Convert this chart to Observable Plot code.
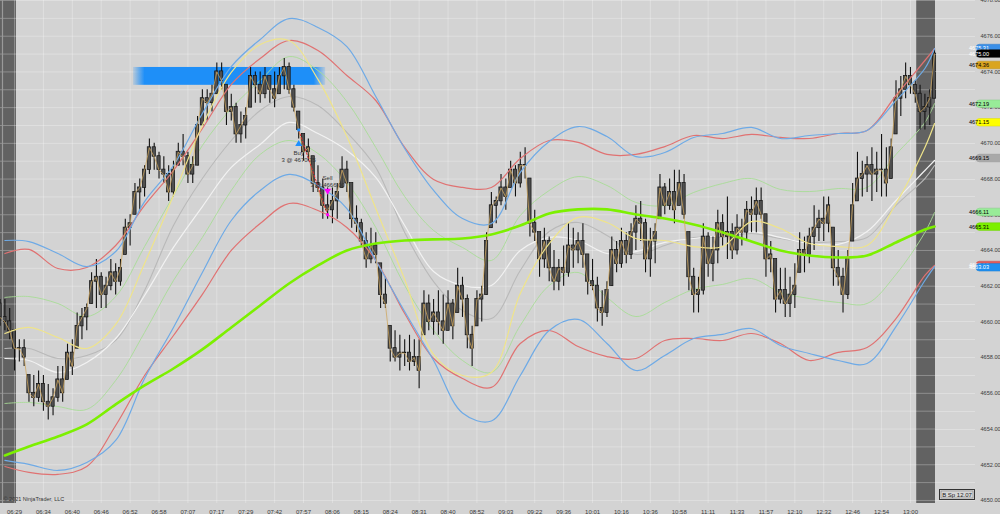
<!DOCTYPE html>
<html><head><meta charset="utf-8">
<script src="https://cdn.jsdelivr.net/npm/d3@7"></script>
<script src="https://cdn.jsdelivr.net/npm/@observablehq/plot@0.6"></script>
<style>
html,body{margin:0;padding:0;background:#d3d3d3;overflow:hidden}
#chart{width:1000px;height:514px}
</style></head><body><div id="chart"></div>
<script>
// ---------------- data ----------------
const timeLabels = ["06:29","06:34","06:40","06:46","06:52","06:58","07:07","07:17","07:29","07:42","07:57","08:06","08:15","08:24","08:31","08:40","08:52","09:03","09:22","09:36","10:01","10:16","10:36","10:58","11:11","11:33","11:57","12:10","12:32","12:46","12:54","13:00"];
const labelBars = [3,9,15,21,27,33,39,45,51,57,63,69,75,81,87,93,99,105,111,117,123,129,135,141,147,153,159,165,171,177,183,189];

const highs = [
4661.25,4661.25,4660.75,4659.5,4659.0,4659.0,4657.0,4657.0,4657.25,4657.0,
4656.5,4656.25,4657.5,4657.5,4658.75,4659.0,4660.5,4660.75,4661.0,4662.75,
4663.5,4662.75,4662.5,4663.5,4663.25,4663.5,4665.75,4666.0,4667.75,4668.0,
4668.75,4670.25,4670.0,4669.5,4669.25,4668.75,4669.0,4670.0,4670.5,4669.5,
4669.25,4671.5,4673.0,4673.0,4673.25,4674.5,4674.5,4673.25,4672.75,4672.25,
4671.75,4672.0,4674.25,4674.0,4674.0,4674.25,4673.75,4674.0,4674.25,4674.75,
4674.5,4673.25,4671.75,4670.5,4670.25,4669.25,4668.75,4668.0,4667.5,4667.5,
4667.75,4669.25,4669.0,4667.75,4666.5,4665.75,4665.0,4665.25,4665.0,4663.25,
4662.5,4659.75,4659.5,4659.25,4659.0,4659.25,4659.0,4659.0,4661.75,4661.5,
4661.25,4661.75,4661.5,4661.75,4661.25,4663.0,4662.5,4661.5,4659.75,4661.75,
4662.0,4665.0,4667.25,4667.0,4668.25,4668.0,4669.0,4668.75,4669.5,4669.75,
4668.0,4666.25,4665.0,4665.25,4664.75,4664.0,4663.5,4664.25,4665.5,4665.25,
4665.0,4665.5,4663.75,4663.5,4662.5,4661.75,4662.25,4664.75,4664.5,4665.25,
4665.0,4665.5,4666.5,4666.75,4665.75,4665.25,4665.5,4668.25,4667.75,4668.0,
4668.5,4668.5,4668.25,4665.0,4663.0,4662.5,4665.5,4665.0,4664.75,4666.25,
4666.0,4667.0,4665.5,4666.0,4665.75,4666.75,4667.0,4667.5,4667.5,4666.0,
4664.5,4663.5,4663.0,4663.0,4662.5,4663.25,4665.0,4664.75,4665.25,4666.5,
4666.25,4667.0,4667.0,4665.25,4664.0,4663.0,4664.0,4667.75,4669.5,4669.0,
4669.25,4669.75,4669.5,4670.5,4669.75,4670.25,4673.5,4673.75,4674.5,4674.25,
4673.5,4673.25,4672.75,4673.0,4675.25];
const lows = [
4659.75,4659.5,4659.0,4657.25,4657.75,4657.5,4655.5,4655.25,4655.5,4655.0,
4654.5,4654.75,4655.5,4655.5,4656.75,4657.0,4658.5,4659.0,4659.5,4661.0,
4660.75,4660.75,4660.75,4661.75,4661.5,4662.0,4663.75,4664.25,4666.0,4666.25,
4667.0,4668.25,4668.5,4668.0,4667.75,4666.75,4667.0,4668.75,4668.75,4667.75,
4667.75,4668.75,4671.0,4671.25,4671.75,4672.75,4673.0,4671.0,4671.25,4670.0,
4670.0,4670.25,4672.0,4672.25,4672.25,4672.5,4672.25,4672.0,4672.75,4673.0,
4672.75,4671.75,4670.25,4669.0,4669.0,4667.25,4667.25,4665.75,4665.75,4665.5,
4665.75,4667.5,4667.25,4665.25,4665.0,4664.25,4663.0,4663.25,4663.25,4660.75,
4660.75,4657.75,4657.75,4657.25,4657.5,4657.25,4657.5,4656.25,4659.25,4659.5,
4659.25,4659.25,4658.75,4659.5,4659.0,4660.5,4660.25,4658.5,4657.5,4659.75,
4660.0,4661.5,4665.25,4665.5,4666.5,4666.25,4667.5,4667.0,4667.5,4668.0,
4664.75,4664.5,4662.5,4663.0,4662.25,4661.75,4661.75,4662.0,4662.5,4663.0,
4663.25,4663.0,4661.5,4661.75,4660.0,4659.75,4660.25,4662.0,4662.75,4663.0,
4663.25,4663.5,4664.0,4664.5,4662.75,4662.5,4663.25,4665.75,4666.0,4666.25,
4665.5,4666.5,4665.75,4661.75,4660.5,4660.5,4661.5,4662.5,4662.25,4663.25,
4664.25,4663.5,4663.5,4663.75,4664.25,4664.5,4665.0,4665.0,4665.75,4662.5,
4662.75,4660.5,4661.0,4660.25,4660.25,4660.75,4662.75,4662.75,4663.25,4664.0,
4664.5,4664.5,4665.0,4662.0,4662.0,4660.5,4661.25,4664.5,4666.75,4667.0,
4667.25,4666.75,4667.25,4667.0,4667.0,4668.0,4670.5,4671.5,4672.5,4672.75,
4672.25,4670.75,4670.75,4671.0,4672.5];
const closes = [
4660.25,4660.0,4659.5,4658.5,4658.5,4658.0,4656.0,4655.75,4656.5,4655.5,
4655.25,4655.75,4656.75,4656.0,4658.25,4657.5,4659.75,4660.25,4660.75,4662.25,
4662.5,4661.5,4662.0,4662.75,4662.25,4663.0,4665.25,4665.5,4667.25,4667.5,
4668.5,4669.75,4669.25,4668.5,4668.25,4667.25,4668.5,4669.5,4669.25,4668.25,
4668.75,4671.0,4672.5,4672.25,4672.75,4674.0,4673.5,4671.75,4672.0,4670.5,
4671.0,4671.5,4673.75,4673.25,4672.75,4673.75,4673.0,4672.5,4673.75,4674.25,
4673.0,4672.0,4670.75,4669.5,4669.75,4667.75,4667.5,4666.5,4666.25,4666.75,
4667.25,4668.5,4667.75,4665.75,4665.5,4664.5,4663.5,4664.25,4663.75,4661.5,
4661.0,4658.5,4658.0,4658.25,4658.25,4657.75,4658.0,4657.25,4661.0,4660.0,
4660.5,4660.0,4659.5,4661.0,4659.75,4662.0,4661.25,4659.25,4658.5,4661.25,
4661.5,4664.5,4666.5,4666.75,4667.5,4667.0,4668.5,4667.75,4668.75,4668.75,
4665.5,4665.0,4663.5,4664.5,4663.0,4662.25,4663.0,4662.75,4664.25,4664.0,
4664.5,4663.75,4662.25,4662.0,4660.75,4660.5,4661.75,4664.0,4663.25,4664.5,
4663.75,4665.0,4665.75,4665.5,4663.5,4664.5,4665.0,4667.5,4666.5,4667.25,
4666.25,4667.75,4666.0,4662.5,4661.5,4661.75,4664.75,4663.25,4664.0,4665.5,
4664.75,4665.0,4664.0,4665.25,4665.0,4666.25,4666.0,4666.75,4666.0,4663.5,
4663.75,4661.25,4661.75,4661.0,4661.5,4662.0,4664.0,4663.75,4664.75,4665.25,
4665.75,4665.5,4666.5,4663.0,4662.5,4661.5,4663.5,4666.5,4668.0,4668.25,
4668.75,4668.25,4668.5,4668.5,4667.75,4669.75,4672.5,4673.0,4673.75,4673.25,
4672.75,4671.75,4672.0,4672.5,4675.0];

// indicator lines, sampled at these bars
const lineBars = [1,6,12,18,24,30,36,42,48,54,60,66,72,78,84,90,96,102,108,114,120,126,132,138,144,150,156,162,168,174,180,186,192,194];
const upperBlue = [4664.56,4664.50,4663.83,4663.10,4663.94,4666.74,4668.76,4671.67,4674.30,4675.82,4676.99,4676.49,4675.42,4672.62,4669.71,4667.36,4665.79,4665.51,4668.37,4670.10,4670.94,4670.38,4669.26,4669.49,4670.33,4670.55,4670.89,4670.27,4670.44,4670.55,4670.72,4672.40,4674.19,4675.31];
const upperRed = [4663.83,4664.06,4662.99,4663.05,4664.28,4666.52,4668.48,4670.83,4673.30,4674.75,4675.76,4675.20,4673.80,4672.40,4669.77,4667.98,4667.53,4667.53,4669.15,4670.16,4670.05,4669.38,4669.38,4669.82,4670.44,4670.27,4670.50,4670.33,4670.27,4670.55,4670.72,4672.68,4674.64,4675.31];
const lowerRed = [4651.90,4651.57,4651.46,4651.90,4654.20,4657.00,4659.24,4661.54,4664.00,4665.51,4666.63,4666.24,4665.29,4663.44,4660.47,4657.95,4656.83,4656.33,4658.79,4659.52,4658.62,4658.06,4657.95,4658.96,4659.07,4658.96,4659.35,4658.79,4657.84,4658.29,4658.57,4660.19,4662.60,4663.16];
const lowerBlue = [4652.24,4652.02,4651.68,4652.13,4653.36,4656.83,4659.69,4662.77,4665.68,4667.36,4668.26,4667.64,4666.35,4663.44,4660.58,4657.84,4654.90,4654.45,4657.00,4659.52,4660.14,4658.79,4657.28,4658.12,4659.07,4659.30,4659.63,4658.68,4658.23,4657.84,4657.67,4659.74,4662.32,4663.10];
const yellowMA = [4659.35,4659.69,4659.13,4658.51,4659.86,4663.27,4667.08,4671.00,4673.97,4675.54,4675.76,4673.58,4670.38,4666.35,4662.38,4658.18,4657.00,4657.17,4661.59,4664.39,4665.85,4665.57,4664.67,4664.56,4664.22,4664.22,4665.62,4665.23,4664.39,4664.22,4664.28,4666.63,4669.77,4671.11];
const whiteMA = [4657.95,4657.84,4657.17,4657.73,4659.07,4661.48,4664.17,4666.46,4668.65,4669.94,4671.17,4670.55,4669.60,4668.09,4665.40,4662.82,4662.04,4662.04,4664.00,4664.73,4664.56,4663.83,4663.94,4664.45,4664.67,4664.84,4665.06,4664.73,4664.39,4664.34,4665.06,4666.80,4668.48,4669.04];
const grayMA = [4658.51,4658.51,4657.95,4658.12,4658.96,4661.76,4665.40,4668.03,4670.16,4671.84,4672.62,4672.12,4670.61,4668.65,4665.01,4662.26,4660.64,4660.19,4662.88,4665.06,4665.57,4664.84,4663.78,4664.28,4664.73,4664.73,4664.95,4664.67,4664.45,4664.50,4664.73,4666.52,4668.03,4668.76];
const upperGreen = [4661.37,4661.42,4661.03,4660.30,4661.42,4664.22,4667.08,4669.88,4671.95,4673.52,4674.86,4674.08,4672.34,4669.77,4667.02,4665.12,4664.17,4663.44,4665.96,4667.36,4668.14,4667.64,4666.69,4666.52,4667.25,4667.75,4668.03,4667.42,4667.30,4667.47,4667.53,4669.38,4671.17,4672.23];
const lowerGreen = [4655.43,4655.49,4655.26,4655.10,4656.72,4659.41,4662.32,4664.73,4667.36,4669.38,4670.16,4669.43,4667.81,4665.29,4662.04,4659.52,4657.84,4657.17,4659.80,4662.04,4662.77,4661.37,4660.30,4661.09,4661.82,4662.10,4662.43,4661.65,4661.31,4661.09,4661.03,4662.66,4665.01,4666.13];
const slowSMA = [4652.52,4653.02,4653.58,4654.26,4655.38,4656.44,4657.39,4658.46,4659.69,4660.92,4662.15,4663.16,4664.00,4664.39,4664.56,4664.62,4664.67,4664.90,4665.40,4666.07,4666.30,4666.30,4666.02,4665.79,4665.46,4665.01,4664.50,4664.00,4663.72,4663.61,4663.72,4664.45,4665.18,4665.34];

const sessionGaps = [{from: 0.09, to: 3.4}, {from: 190.3, to: 194.2}];
const zone = {start: 27.7, end: 67.6, top: 4674.25, bottom: 4673.25};
const trades = [
  {side: "Buy", bar: 62, price: 4670.75, qty: 3},
  {side: "Sell", bar: 68, price: 4666.00, qty: 3}
];
const tagValues = [4675.31, 4663.16, 4663.03, 4666.13, 4665.31, 4669.15, 4671.15, 4672.19, 4674.36, 4675.00];
const tagLabels = ["4675.31","4663.16","4663.03","4666.11","4665.31","4669.15","4671.15","4672.19","4674.36","4675.00"];
const copyright = "© 2021 NinjaTrader, LLC";
const statusText = "B Sp 12.07";

// ---------------- build ----------------
const bars = highs.map((h, i) => {
  const prev = i ? closes[i - 1] : 4661.0;
  const open = Math.max(lows[i], Math.min(h, prev));
  return {i, high: h, low: lows[i], close: closes[i], open};
});
const series = arr => lineBars.map((b, k) => ({i: b, v: arr[k]}));
const labelMap = new Map(labelBars.map((b, k) => [b, timeLabels[k]]));
const buy = trades.filter(d => d.side === "Buy");
const sell = trades.filter(d => d.side === "Sell");

const lineStyle = (arr, stroke, w) => Plot.line(series(arr), {x: "i", y: "v", stroke, strokeWidth: w, curve: "catmull-rom"});

const plot = Plot.plot({
  width: 1000, height: 514,
  marginLeft: 0, marginRight: 65, marginTop: 0, marginBottom: 11,
  style: {background: "#d3d3d3", fontFamily: "'Liberation Sans', Arial, sans-serif", fontSize: "6px", color: "#333", overflow: "visible"},
  x: {domain: [0.09, 194.2], axis: null},
  y: {domain: [4649.83, 4678], axis: null},
  marks: [
    Plot.rect(sessionGaps, {x1: "from", x2: "to", fill: "#626262"}),
    Plot.ruleY(d3.range(4650, 4679), {stroke: "#ffffff", strokeOpacity: 0.28}),
    Plot.ruleX(labelBars, {stroke: "#ffffff", strokeOpacity: 0.28}),
    Plot.rect([zone], {x1: "start", x2: "end", y1: "bottom", y2: "top", fill: "url(#zoneGrad)"}),
    // indicators drawn behind the candles
    lineStyle(upperGreen, "#a8dc96", 0.9),
    lineStyle(lowerGreen, "#a8dc96", 0.9),
    lineStyle(grayMA, "#b9b9b9", 1.1),
    lineStyle(whiteMA, "#f2f2f2", 1.2),
    // candles
    Plot.ruleX(bars, {x: "i", y1: "low", y2: "high", stroke: "#111", strokeWidth: 1.1}),
    Plot.rect(bars, {x1: d => d.i - 0.34, x2: d => d.i + 0.34, y1: d => Math.min(d.open, d.close), y2: d => Math.max(d.open, d.close) + 0.03, fill: "#4f4f4f", stroke: "#111", strokeWidth: 0.7}),
    // bands and averages
    lineStyle(upperRed, "#e07272", 1.2),
    lineStyle(lowerRed, "#e07272", 1.2),
    lineStyle(upperBlue, "#6eaae6", 1.2),
    lineStyle(lowerBlue, "#6eaae6", 1.2),
    lineStyle(yellowMA, "#efe48a", 1.2),
    lineStyle(slowSMA, "#7cf000", 2.6),
    Plot.line(bars, {x: "i", y: "close", stroke: "#cfa55c", strokeWidth: 0.9, strokeOpacity: 0.85}),
    // trades
    Plot.line(trades, {x: "bar", y: "price", stroke: "#e03030", strokeWidth: 1, strokeDasharray: "2,2"}),
    Plot.dot(buy, {x: "bar", y: "price", symbol: "square", r: 1.6, fill: "#1e90ff"}),
    Plot.dot(buy, {x: "bar", y: "price", symbol: "triangle", r: 2.6, fill: "#1e90ff", dy: 14}),
    Plot.text(buy, {x: "bar", y: "price", text: "side", dy: 23, fontSize: 6, fill: "#333"}),
    Plot.text(buy, {x: "bar", y: "price", text: d => `${d.qty} @ ${d.price.toFixed(2)}`, dy: 30, fontSize: 6, fill: "#333"}),
    Plot.dot(sell, {x: "bar", y: "price", symbol: "square", r: 1.6, fill: "#ff00ff"}),
    Plot.dot(sell, {x: "bar", y: "price", symbol: "triangle", rotate: 180, r: 2.6, fill: "#ff00ff", dy: -24}),
    Plot.text(sell, {x: "bar", y: "price", text: "side", dy: -37, fontSize: 6, fill: "#333"}),
    Plot.text(sell, {x: "bar", y: "price", text: d => `${d.qty} @ ${d.price.toFixed(2)}`, dy: -30, fontSize: 6, fill: "#333"}),
    Plot.text([copyright], {frameAnchor: "bottom-left", dx: 3, dy: -3, textAnchor: "start", lineAnchor: "bottom", fontSize: 5.5, fill: "#333"}),
    // axes
    Plot.axisX(labelBars, {tickFormat: d => labelMap.get(d), tickSize: 0, tickPadding: 6, fontSize: 6, fill: "#3a3a3a"}),
    Plot.axisY(d3.range(4650, 4679, 2), {anchor: "right", tickFormat: d => d.toFixed(2), tickSize: 0, tickPadding: 45, fontSize: 5.6, fill: "#3a3a3a"})
  ]
});
document.getElementById("chart").appendChild(plot);

// ---------------- decorations that use the plot's scales ----------------
const svg = d3.select(plot);
const ys = plot.scale("y");
const defs = svg.insert("defs", ":first-child");
const grad = defs.append("linearGradient").attr("id", "zoneGrad").attr("x1", 0).attr("x2", 1).attr("y1", 0).attr("y2", 0);
[[0, 0.15], [0.06, 1], [0.94, 1], [1, 0.15]].forEach(([o, a]) =>
  grad.append("stop").attr("offset", o).attr("stop-color", "#1e8ff8").attr("stop-opacity", a));

const deco = svg.append("g");
// gridline continuation in the price margin
d3.range(4650, 4679).forEach(v => {
  const y = Math.round(ys.apply(v)) + 0.5;
  deco.append("line").attr("x1", 935).attr("x2", 975).attr("y1", y).attr("y2", y)
    .attr("stroke", "#fff").attr("stroke-opacity", 0.28);
});
// session separator line in the left strip
deco.append("line").attr("x1", 2.5).attr("x2", 2.5).attr("y1", 0).attr("y2", 503).attr("stroke", "#9a9a9a").attr("stroke-width", 1.2);

// price tags
const tagFill = ["#3a8fe8", "#e05a5a", "#1e8ff0", "#98ec98", "#7cf000", "#a9a9a9", "#ffff00", "#98ec98", "#daa520", "#000000"];
const tagInk = ["#fff", "#fff", "#fff", "#000", "#000", "#000", "#000", "#000", "#000", "#fff"];
tagValues.forEach((v, k) => {
  const y = ys.apply(v);
  deco.append("rect").attr("x", 976).attr("y", y - 3.8).attr("width", 34).attr("height", 7.6).attr("rx", 3.5)
    .attr("fill", tagFill[k]).attr("stroke", d3.color(tagFill[k]).darker(0.4)).attr("stroke-width", 0.5);
  deco.append("text").attr("x", 979).attr("y", y + 2.1).attr("font-size", 5.6).attr("fill", tagInk[k]).text(tagLabels[k]);
});
// status box
deco.append("rect").attr("x", 939.5).attr("y", 489.5).attr("width", 35).attr("height", 10).attr("fill", "#d6d6d6").attr("stroke", "#333").attr("stroke-width", 1);
deco.append("rect").attr("x", 941).attr("y", 491).attr("width", 32).attr("height", 7).attr("fill", "none").attr("stroke", "#777").attr("stroke-width", 0.5);
deco.append("text").attr("x", 957).attr("y", 496.8).attr("text-anchor", "middle").attr("font-size", 6).attr("fill", "#222").text(statusText);
</script>
</body></html>
